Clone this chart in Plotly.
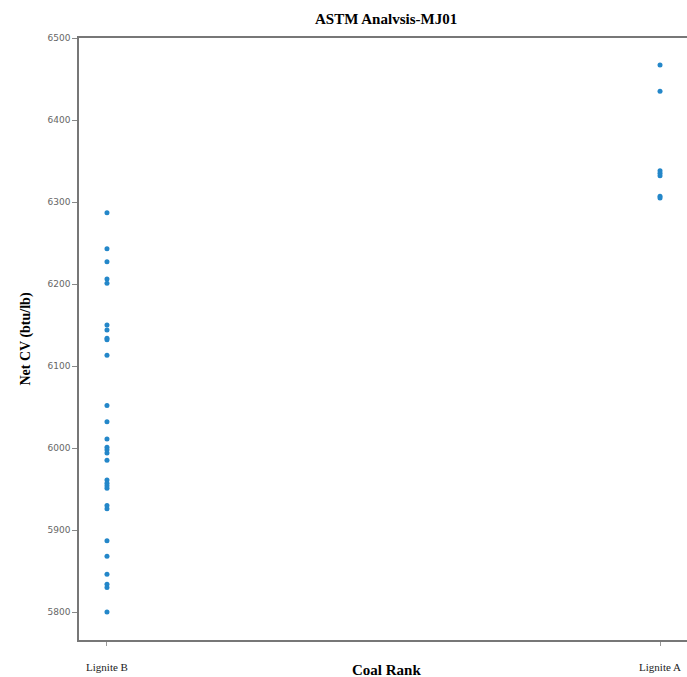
import plotly.graph_objects as go

title_text = "ASTM Analvsis-MJ01"
categories = ["Lignite B", "Lignite A"]
lignite_b = [6287, 6243, 6227, 6206, 6201, 6150, 6144, 6134, 6132, 6113,
             6052, 6032, 6011, 6001, 5998, 5994, 5985, 5961, 5957, 5954,
             5951, 5930, 5926, 5887, 5868, 5846, 5834, 5830, 5800]
lignite_a = [6467, 6435, 6338, 6335, 6332, 6307, 6305]
y_ticks = [5800, 5900, 6000, 6100, 6200, 6300, 6400, 6500]

xs = [categories[0]] * len(lignite_b) + [categories[1]] * len(lignite_a)
ys = lignite_b + lignite_a

fig = go.Figure()
fig.add_trace(go.Scatter(x=xs, y=ys, mode="markers",
                         marker=dict(color="#2487c9", size=5),
                         showlegend=False, hoverinfo="x+y"))

serif = "Liberation Serif, Times New Roman, serif"
fig.update_layout(
    width=687, height=677,
    margin=dict(l=79, r=0, t=38, b=37, autoexpand=False),
    paper_bgcolor="white", plot_bgcolor="white",
    title=dict(text="<b>" + title_text + "</b>", x=0.562, xanchor="center",
               y=0.973, yanchor="middle",
               font=dict(family=serif, size=15, color="black")),
    xaxis=dict(type="category", categoryorder="array", categoryarray=categories,
               range=[-0.0506, 1.0488], showgrid=False, zeroline=False,
               showline=True, linecolor="#777777", linewidth=1.5, mirror=True,
               ticks="outside", ticklen=4, tickcolor="#999999",
               ticklabelstandoff=12,
               tickfont=dict(family=serif, size=11, color="#222222")),
    yaxis=dict(range=[5765.9, 6500], tickvals=y_ticks,
               ticktext=[str(v) for v in y_ticks],
               showgrid=False, zeroline=False,
               showline=True, linecolor="#777777", linewidth=1.5, mirror=False,
               ticks="outside", ticklen=5, tickcolor="#888888",
               tickfont=dict(family="DejaVu Sans", size=9, color="#666666"),
               title=dict(text="<b>Net CV (btu/lb)</b>", standoff=14,
                          font=dict(family=serif, size=14, color="black"))),
    annotations=[dict(text="<b>Coal Rank</b>", xref="paper", yref="paper",
                      x=0.505, y=-0.05, xanchor="center", yanchor="middle",
                      showarrow=False,
                      font=dict(family=serif, size=15, color="black"))],
)

fig.write_html("out.html", config={"displayModeBar": False},
               post_script="document.body.style.margin='0px';document.body.style.overflow='hidden';")
